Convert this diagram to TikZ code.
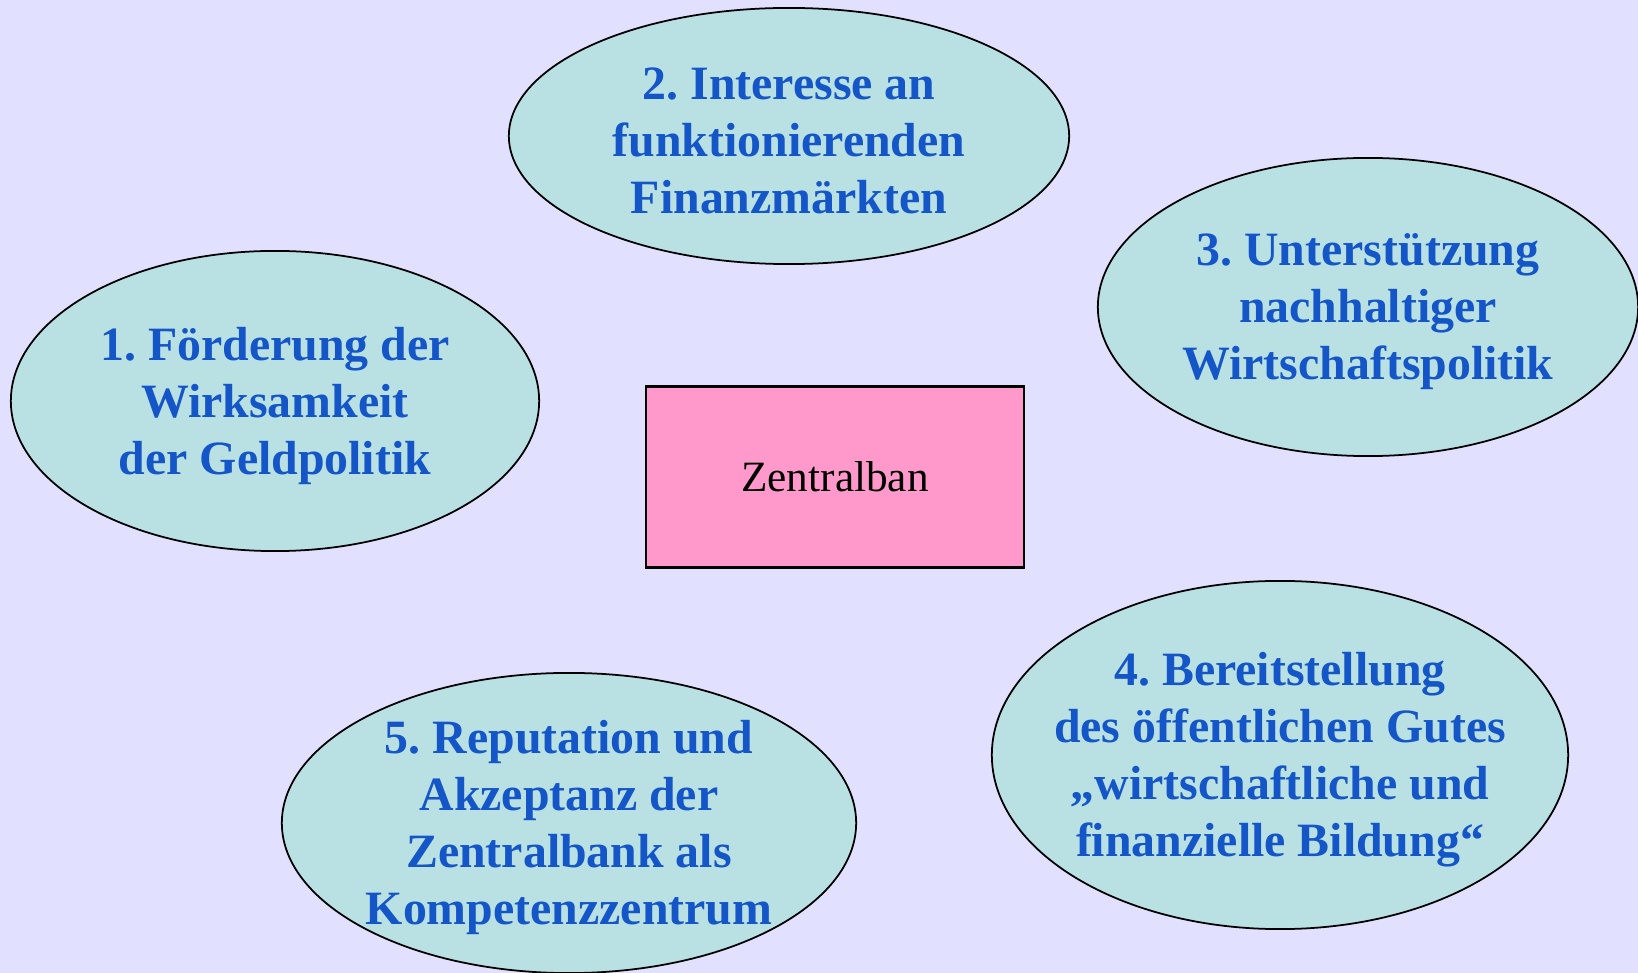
\documentclass[tikz,border=0pt]{standalone}
\usepackage{fontspec}
\setmainfont{Liberation Serif}
\usetikzlibrary{shapes.geometric}
\definecolor{lavender}{RGB}{225,225,255}
\definecolor{aqua}{RGB}{185,224,226}
\definecolor{bankpink}{RGB}{255,153,204}
\definecolor{ink}{RGB}{20,85,200}
\frenchspacing

\begin{document}
\begin{tikzpicture}[x = 0.01cm, y = -0.01cm,
  goal/.style = {ellipse, draw, fill = aqua, line width = 0.5pt, inner sep = 0pt},
  goaltext/.style = {align = center, text = ink, yshift = -1.3pt,
    font = \fontsize{13.6}{16.2}\selectfont\bfseries},
  bank/.style = {rectangle, draw, fill = bankpink, line width = 0.6pt,
    minimum width = 3.78cm, minimum height = 1.81cm, font = \fontsize{12.3}{15}\selectfont}
]
\clip (0,0) rectangle (1638,973);
\fill[lavender] (0,0) rectangle (1638,973);

% the five aims round the bank
\node[goal, minimum width = 5.28cm, minimum height = 3.00cm] (foerderung) at (275,401) {};
\node[goal, minimum width = 5.60cm, minimum height = 2.56cm] (finanzmarkt) at (789,136) {};
\node[goal, minimum width = 5.40cm, minimum height = 2.98cm] (wirtschaft) at (1368,307) {};
\node[goal, minimum width = 5.76cm, minimum height = 3.48cm] (bildung) at (1280,755) {};
\node[goal, minimum width = 5.74cm, minimum height = 3.00cm] (reputation) at (569,823) {};

\node[goaltext] (t1) at (foerderung) {1. Förderung der\\Wirksamkeit\\der Geldpolitik};
\node[goaltext] (t2) at (finanzmarkt) {2. Interesse an\\funktionierenden\\Finanzmärkten};
\node[goaltext] (t3) at (wirtschaft) {3. Unterstützung\\nachhaltiger\\Wirtschaftspolitik};
\node[goaltext] (t4) at (bildung) {4. Bereitstellung\\des öffentlichen Gutes\\„wirtschaftliche und\\finanzielle Bildung“};
\node[goaltext] (t5) at (reputation) {5. Reputation und\\Akzeptanz der\\Zentralbank als\\Kompetenzzentrum};

% centre
\node[bank] (zentralbank) at (835,477) {Zentralban};
\end{tikzpicture}
\end{document}
